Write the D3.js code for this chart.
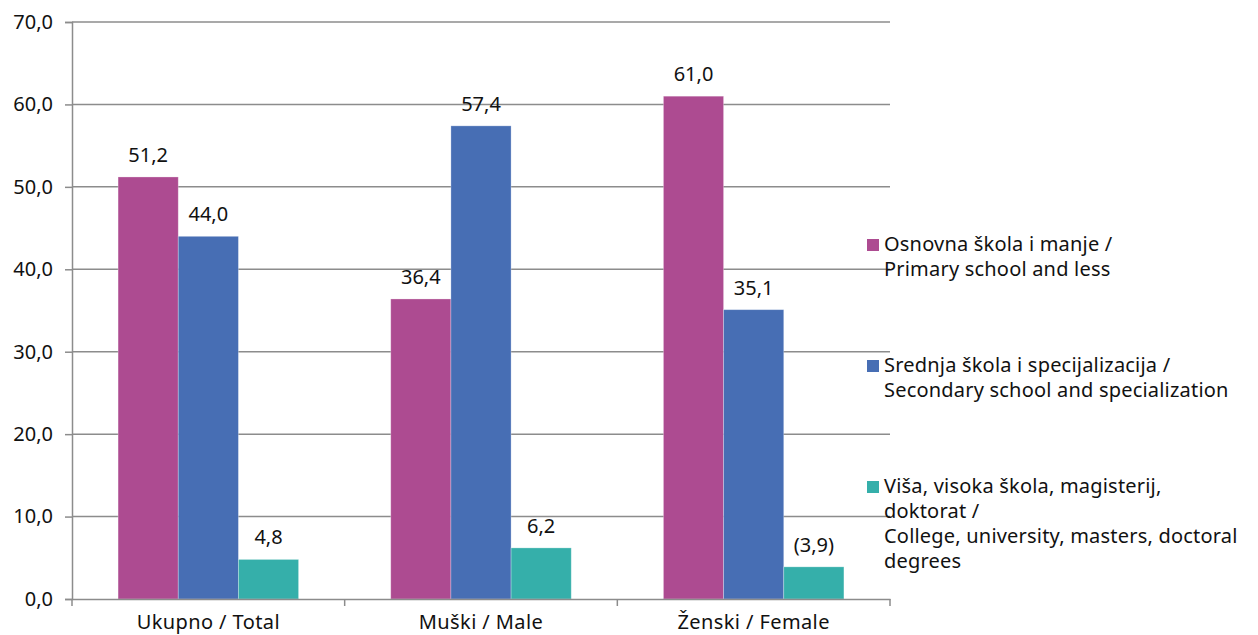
<!DOCTYPE html>
<html><head><meta charset="utf-8">
<script src="https://cdn.jsdelivr.net/npm/d3@7"></script>
<style>body{margin:0;background:#fff}svg{display:block;font-family:"Noto Sans",sans-serif}</style>
</head><body><svg id="c" width="1258" height="635"></svg>
<script>
const categories = ["Ukupno / Total", "Muški / Male", "Ženski / Female"];
const seriesNames = ["primary", "secondary", "higher"];
const primary = [51.2, 36.4, 61.0];
const secondary = [44.0, 57.4, 35.1];
const higher = [4.8, 6.2, 3.9];
const labelsPrimary = ["51,2", "36,4", "61,0"];
const labelsSecondary = ["44,0", "57,4", "35,1"];
const labelsHigher = ["4,8", "6,2", "(3,9)"];
const yTicks = [0, 10, 20, 30, 40, 50, 60, 70];
const legendLines = [
  ["Osnovna škola i manje /", "Primary school and less"],
  ["Srednja škola i specijalizacija /", "Secondary school and specialization"],
  ["Viša, visoka škola, magisterij,", "doktorat /", "College, university, masters, doctoral", "degrees"]
];
const colors = ["#AD4B91", "#476EB4", "#35AFAA"];

const FS = 20;
const svg = d3.select("#c");
const mLeft = 72, mRight = 890, mTop = 22, mBottom = 599;
const y = d3.scaleLinear().domain([0, 70]).range([mBottom, mTop]);
const x = d3.scaleBand().domain(categories).range([mLeft, mRight]).padding(0);
const bw = x.bandwidth();
const xs = d3.scaleBand().domain(seriesNames).range([bw*0.169, bw*0.831]).padding(0);

// gridlines
svg.append("g").selectAll("line").data(yTicks.slice(1)).join("line")
  .attr("x1", mLeft).attr("x2", mRight).attr("y1", d => y(d)).attr("y2", d => y(d))
  .attr("stroke", "#8c8c8c").attr("stroke-width", 1.5);

const values = [primary, secondary, higher];
const labels = [labelsPrimary, labelsSecondary, labelsHigher];
const g = svg.append("g");
seriesNames.forEach((s, si) => {
  categories.forEach((c, ci) => {
    const v = values[si][ci];
    g.append("rect").attr("x", x(c) + xs(s)).attr("y", y(v))
      .attr("width", xs.bandwidth()).attr("height", y(0) - y(v))
      .attr("fill", colors[si]).attr("stroke", "rgba(255,255,255,0.35)").attr("stroke-width", 0.8);
    g.append("text").attr("x", x(c) + xs(s) + xs.bandwidth()/2).attr("y", y(v) - 15)
      .attr("text-anchor", "middle").attr("font-size", FS).attr("fill", "#111")
      .text(labels[si][ci]);
  });
});

// y axis
const yAxis = d3.axisLeft(y).tickValues(yTicks).tickSize(7).tickPadding(12)
  .tickFormat(d => d3.format(".1f")(d).replace(".", ","));
const ya = svg.append("g").attr("transform", `translate(${mLeft},0)`).call(yAxis);
ya.select(".domain").attr("stroke", "#8c8c8c").attr("stroke-width", 1.5);
ya.selectAll(".tick line").attr("stroke", "#8c8c8c").attr("stroke-width", 1.5);
ya.selectAll(".tick text").attr("font-size", FS).attr("fill", "#111").attr("font-family", "Noto Sans");

// x axis
const xAxis = d3.axisBottom(x).tickSize(0).tickPadding(16);
const xa = svg.append("g").attr("transform", `translate(0,${mBottom})`).call(xAxis);
xa.select(".domain").attr("stroke", "#8c8c8c").attr("stroke-width", 1.5);
xa.selectAll(".tick text").attr("font-size", FS).attr("fill", "#111").attr("font-family", "Noto Sans")
  .attr("letter-spacing", 0.4);
const bounds = categories.map(c => x(c)).concat([x(categories[categories.length-1]) + bw]);
xa.selectAll(".sep").data(bounds).join("line").attr("class", "sep")
  .attr("x1", d => d).attr("x2", d => d).attr("y1", 0).attr("y2", 7)
  .attr("stroke", "#8c8c8c").attr("stroke-width", 1.5);

// legend
const legendY = [245, 366, 487];
const lg = svg.append("g");
legendLines.forEach((lines, i) => {
  lg.append("rect").attr("x", 867).attr("y", legendY[i] - 6).attr("width", 12).attr("height", 12).attr("fill", colors[i]);
  lines.forEach((t, j) => {
    lg.append("text").attr("x", 884).attr("y", legendY[i] + j*25 + 6)
      .attr("font-size", FS).attr("fill", "#111").attr("letter-spacing", 0.2).text(t);
  });
});
</script></body></html>
